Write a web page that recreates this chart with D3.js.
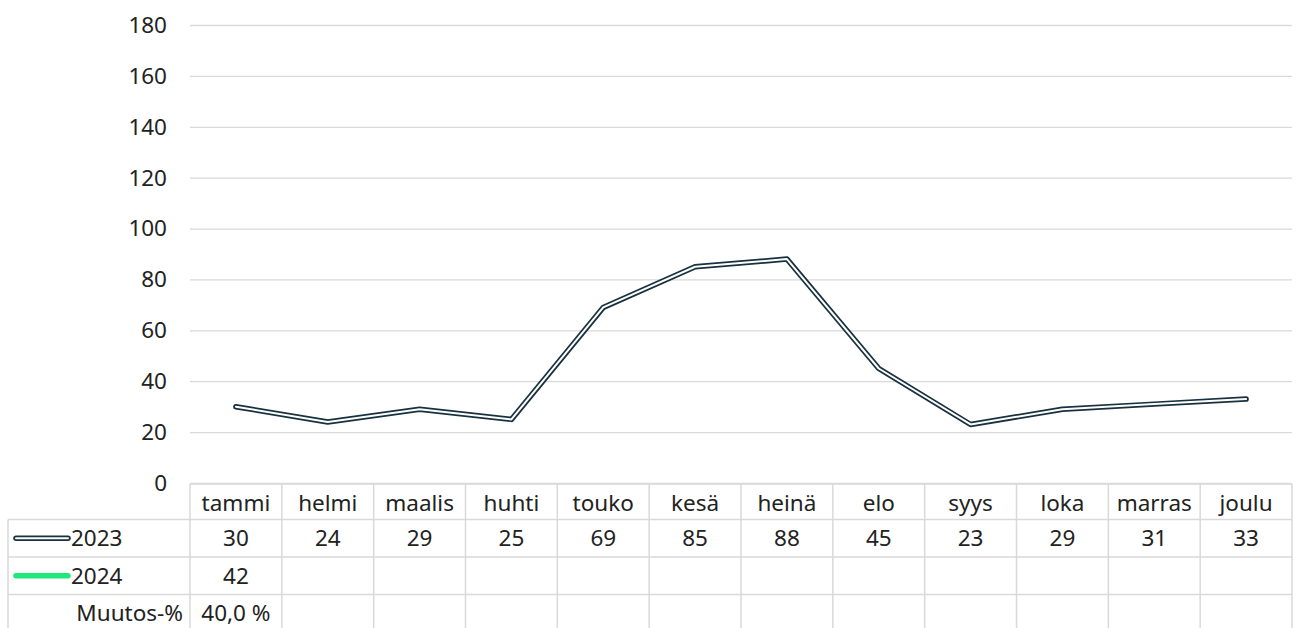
<!DOCTYPE html>
<html>
<head>
<meta charset="utf-8">
<script src="https://cdn.jsdelivr.net/npm/d3@7"></script>
<style>
  body { margin: 0; background: #fff; }
  svg { font-family: "Noto Sans", "Open Sans", sans-serif; }
</style>
</head>
<body>
<svg id="vis" width="1301" height="628"></svg>
<script>
// chart data
const MONTHS = ["tammi", "helmi", "maalis", "huhti", "touko", "kesä", "heinä", "elo", "syys", "loka", "marras", "joulu"];
const Y2023 = [30, 24, 29, 25, 69, 85, 88, 45, 23, 29, 31, 33];
const Y2024 = [42];
const CHANGE = ["40,0 %"];
const Y_TICKS = [0, 20, 40, 60, 80, 100, 120, 140, 160, 180];

const M = {left: 190, right: 1292, top: 25, bottom: 483};
const TABLE_LEFT = 8;
const ROW_H = 37.5;
const GRID = "#d9d9d9";
const DARK = "#17313f";
const GREEN = "#1ee87b";
const FS = 22.5;

const svg = d3.select("#vis");

const x = d3.scaleBand().domain(MONTHS).range([M.left, M.right]);
const y = d3.scaleLinear().domain([0, 180]).range([M.bottom, M.top]);

// gridlines + y labels
svg.append("g")
    .attr("transform", `translate(${M.left},0)`)
    .call(d3.axisLeft(y).tickValues(Y_TICKS).tickSize(-(M.right - M.left)).tickPadding(23))
    .call(g => g.select(".domain").remove())
    .call(g => g.selectAll("line").attr("stroke", GRID).attr("stroke-width", 1.3))
    .call(g => g.selectAll("text").attr("fill", "#222").attr("font-size", FS)
        .attr("font-family", "Noto Sans, sans-serif").attr("dy", "0.33em"));

// data table
const rows = [
    {label: "2023", vals: Y2023.map(String), sym: "2023"},
    {label: "2024", vals: Y2024.map(String), sym: "2024"},
    {label: "Muutos-%", vals: CHANGE, sym: null}
];
const tbl = svg.append("g").attr("stroke", GRID).attr("stroke-width", 1.5).attr("fill", "none");
const headTop = M.bottom + 1;
const bodyTop = headTop + ROW_H - 2;
// horizontal lines
tbl.append("line").attr("x1", M.left).attr("x2", M.right).attr("y1", headTop).attr("y2", headTop);
for (let i = 0; i <= rows.length; i++) {
    const yy = bodyTop + i * ROW_H;
    tbl.append("line").attr("x1", TABLE_LEFT).attr("x2", M.right).attr("y1", yy).attr("y2", yy);
}
// vertical lines
tbl.append("line").attr("x1", TABLE_LEFT).attr("x2", TABLE_LEFT).attr("y1", bodyTop).attr("y2", 640);
MONTHS.concat([null]).forEach((m, i) => {
    const xx = m ? x(m) : M.right;
    tbl.append("line").attr("x1", xx).attr("x2", xx).attr("y1", headTop).attr("y2", 640);
});

const txt = svg.append("g").attr("font-size", FS).attr("fill", "#222");
txt.selectAll("text.month").data(MONTHS).enter().append("text")
    .attr("x", d => x(d) + x.bandwidth() / 2)
    .attr("y", headTop + ROW_H / 2 + 8)
    .attr("text-anchor", "middle")
    .text(d => d);

rows.forEach((r, i) => {
    const cy = bodyTop + i * ROW_H + ROW_H / 2;
    r.vals.forEach((v, j) => {
        txt.append("text")
            .attr("x", x(MONTHS[j]) + x.bandwidth() / 2)
            .attr("y", cy + 8)
            .attr("text-anchor", "middle")
            .text(v);
    });
    if (r.sym) {
        txt.append("text").attr("x", 71).attr("y", cy + 8).text(r.label);
        if (r.sym === "2023") {
            svg.append("line").attr("x1", 16).attr("x2", 68).attr("y1", cy).attr("y2", cy)
                .attr("stroke", DARK).attr("stroke-width", 5.5).attr("stroke-linecap", "round");
            svg.append("line").attr("x1", 16).attr("x2", 68).attr("y1", cy).attr("y2", cy)
                .attr("stroke", "#fff").attr("stroke-width", 2).attr("stroke-linecap", "round");
        } else {
            svg.append("line").attr("x1", 16).attr("x2", 68).attr("y1", cy).attr("y2", cy)
                .attr("stroke", GREEN).attr("stroke-width", 5.5).attr("stroke-linecap", "round");
        }
    } else {
        txt.append("text").attr("x", 183).attr("y", cy + 8).attr("text-anchor", "end").text(r.label);
    }
});

// lines
const line = d3.line()
    .x((d, i) => x(MONTHS[i]) + x.bandwidth() / 2)
    .y(d => y(d));

svg.append("path").datum(Y2023).attr("d", line)
    .attr("fill", "none").attr("stroke", DARK).attr("stroke-width", 5.5)
    .attr("stroke-linejoin", "round").attr("stroke-linecap", "round");
svg.append("path").datum(Y2023).attr("d", line)
    .attr("fill", "none").attr("stroke", "#fff").attr("stroke-width", 2)
    .attr("stroke-linejoin", "round").attr("stroke-linecap", "round");

// 2024 has a single value, so no segment is drawn
svg.append("path").datum(Y2024).attr("d", line)
    .attr("fill", "none").attr("stroke", GREEN).attr("stroke-width", 5);
</script>
</body>
</html>
